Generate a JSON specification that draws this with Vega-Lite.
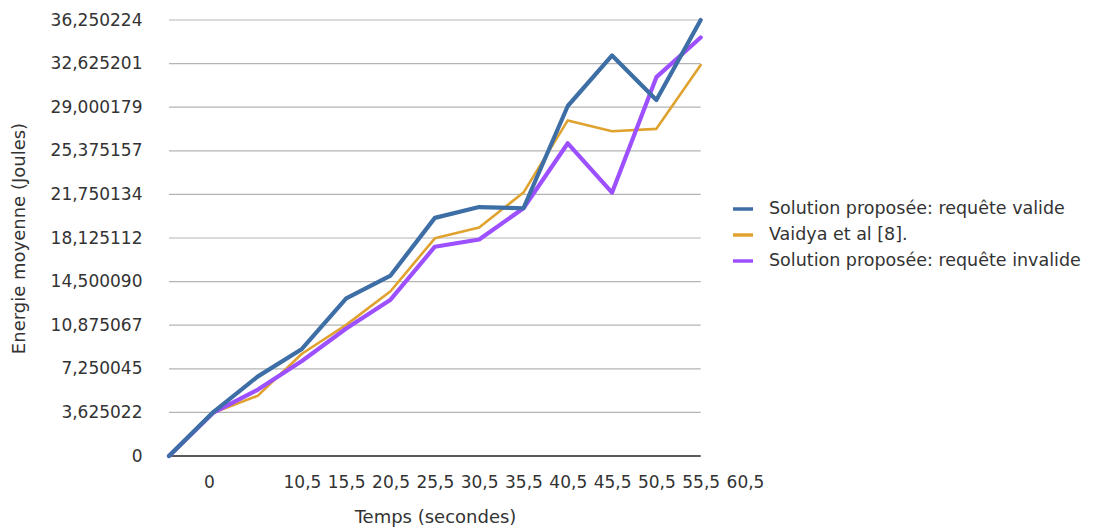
{
  "$schema": "https://vega.github.io/schema/vega-lite/v6.json",
  "width": 576,
  "height": 436,
  "autosize": {"type": "none"},
  "padding": {"left": 169, "top": 20, "right": 365, "bottom": 74},
  "background": "white",
  "config": {
    "font": "DejaVu Sans",
    "view": {"stroke": null},
    "axis": {"labelColor": "#333333", "titleColor": "#333333", "titleFontWeight": "normal"}
  },
  "layer": [
    {
      "data": {"values": [
        {"v": 3.625022}, {"v": 7.250045}, {"v": 10.875067}, {"v": 14.50009}, {"v": 18.125112},
        {"v": 21.750134}, {"v": 25.375157}, {"v": 29.000179}, {"v": 32.625201}, {"v": 36.250224}
      ]},
      "mark": {"type": "rule", "color": "#b4b4b4", "strokeWidth": 1.2},
      "encoding": {
        "y": {"field": "v", "type": "quantitative", "title": "Energie moyenne (Joules)", "scale": {"domain": [0, 36.250224], "nice": false}},
        "x": {"datum": -4.5, "type": "quantitative", "title": "Temps (secondes)", "scale": {"domain": [-4.5, 60.5], "nice": false, "zero": false}},
        "x2": {"datum": 55.5}
      }
    },
    {
      "data": {"values": [{"v": 0}]},
      "mark": {"type": "rule", "color": "#222222", "strokeWidth": 1.5},
      "encoding": {
        "y": {"field": "v", "type": "quantitative", "title": "Energie moyenne (Joules)"},
        "x": {"datum": -4.5, "type": "quantitative", "title": "Temps (secondes)"},
        "x2": {"datum": 55.5}
      }
    },
    {
      "data": {"values": [
        {"t": -4.5, "s": "Vaidya et al [8].", "e": 0},
        {"t": 0.5, "s": "Vaidya et al [8].", "e": 3.6},
        {"t": 5.5, "s": "Vaidya et al [8].", "e": 5.0},
        {"t": 10.5, "s": "Vaidya et al [8].", "e": 8.5},
        {"t": 15.5, "s": "Vaidya et al [8].", "e": 10.9},
        {"t": 20.5, "s": "Vaidya et al [8].", "e": 13.7},
        {"t": 25.5, "s": "Vaidya et al [8].", "e": 18.1},
        {"t": 30.5, "s": "Vaidya et al [8].", "e": 19.0},
        {"t": 35.5, "s": "Vaidya et al [8].", "e": 21.9},
        {"t": 40.5, "s": "Vaidya et al [8].", "e": 27.9},
        {"t": 45.5, "s": "Vaidya et al [8].", "e": 27.0},
        {"t": 50.5, "s": "Vaidya et al [8].", "e": 27.2},
        {"t": 55.5, "s": "Vaidya et al [8].", "e": 32.5},
        {"t": -4.5, "s": "Solution proposée: requête invalide", "e": 0},
        {"t": 0.5, "s": "Solution proposée: requête invalide", "e": 3.6},
        {"t": 5.5, "s": "Solution proposée: requête invalide", "e": 5.5},
        {"t": 10.5, "s": "Solution proposée: requête invalide", "e": 7.9},
        {"t": 15.5, "s": "Solution proposée: requête invalide", "e": 10.6},
        {"t": 20.5, "s": "Solution proposée: requête invalide", "e": 13.0},
        {"t": 25.5, "s": "Solution proposée: requête invalide", "e": 17.4},
        {"t": 30.5, "s": "Solution proposée: requête invalide", "e": 18.0},
        {"t": 35.5, "s": "Solution proposée: requête invalide", "e": 20.6},
        {"t": 40.5, "s": "Solution proposée: requête invalide", "e": 26.0},
        {"t": 45.5, "s": "Solution proposée: requête invalide", "e": 21.9},
        {"t": 50.5, "s": "Solution proposée: requête invalide", "e": 31.5},
        {"t": 55.5, "s": "Solution proposée: requête invalide", "e": 34.8},
        {"t": -4.5, "s": "Solution proposée: requête valide", "e": 0},
        {"t": 0.5, "s": "Solution proposée: requête valide", "e": 3.65},
        {"t": 5.5, "s": "Solution proposée: requête valide", "e": 6.6},
        {"t": 10.5, "s": "Solution proposée: requête valide", "e": 8.9},
        {"t": 15.5, "s": "Solution proposée: requête valide", "e": 13.1},
        {"t": 20.5, "s": "Solution proposée: requête valide", "e": 15.0},
        {"t": 25.5, "s": "Solution proposée: requête valide", "e": 19.8},
        {"t": 30.5, "s": "Solution proposée: requête valide", "e": 20.7},
        {"t": 35.5, "s": "Solution proposée: requête valide", "e": 20.6},
        {"t": 40.5, "s": "Solution proposée: requête valide", "e": 29.1},
        {"t": 45.5, "s": "Solution proposée: requête valide", "e": 33.3},
        {"t": 50.5, "s": "Solution proposée: requête valide", "e": 29.6},
        {"t": 55.5, "s": "Solution proposée: requête valide", "e": 36.25}
      ]},
      "mark": {"type": "line", "strokeJoin": "round", "strokeCap": "round"},
      "encoding": {
        "x": {
          "field": "t", "type": "quantitative", "title": "Temps (secondes)",
          "axis": {
            "values": [0, 10.5, 15.5, 20.5, 25.5, 30.5, 35.5, 40.5, 45.5, 50.5, 55.5, 60.5],
            "labelExpr": "datum.value == 0 ? '0' : replace(format(datum.value, '.1f'), '.', ',')",
            "title": "Temps (secondes)",
            "titleX": 266,
            "titleFontSize": 18,
            "titlePadding": 18,
            "labelFontSize": 17,
            "labelPadding": 18,
            "labelOverlap": false,
            "labelFlush": false,
            "labelBound": false,
            "ticks": false,
            "domain": false,
            "grid": false
          }
        },
        "y": {
          "field": "e", "type": "quantitative", "title": "Energie moyenne (Joules)",
          "axis": {
            "values": [0, 3.625022, 7.250045, 10.875067, 14.50009, 18.125112, 21.750134, 25.375157, 29.000179, 32.625201, 36.250224],
            "labelExpr": "datum.value == 0 ? '0' : replace(format(datum.value, '.6f'), '.', ',')",
            "title": "Energie moyenne (Joules)",
            "titleFontSize": 18,
            "titlePadding": 22,
            "labelFontSize": 17,
            "labelPadding": 27,
            "labelOverlap": false,
            "ticks": false,
            "domain": false,
            "grid": false
          }
        },
        "color": {
          "field": "s", "type": "nominal",
          "scale": {
            "domain": ["Solution proposée: requête valide", "Vaidya et al [8].", "Solution proposée: requête invalide"],
            "range": ["#3d6ea5", "#e0a22e", "#9c50ff"]
          },
          "legend": {
            "orient": "none", "legendX": 562, "legendY": 177,
            "title": null, "labelFontSize": 17.5, "labelColor": "#333333", "labelLimit": 0,
            "symbolType": "stroke", "symbolStrokeWidth": 3.5, "symbolSize": 400,
            "rowPadding": 5, "labelOffset": 14
          }
        },
        "strokeWidth": {
          "condition": {"test": "datum.s === 'Vaidya et al [8].'", "value": 2.6},
          "value": 4.2
        }
      }
    }
  ]
}
